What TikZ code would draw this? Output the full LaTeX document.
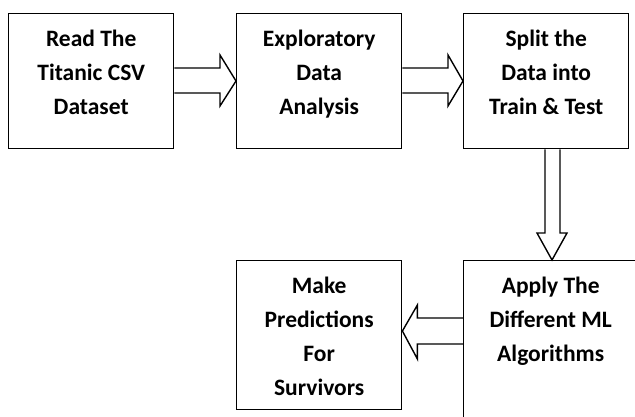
\documentclass[tikz,border=0pt]{standalone}
\usepackage{fontspec}
\setmainfont{Carlito}
\usetikzlibrary{calc}
\begin{document}
\begin{tikzpicture}[x=1pt,y=-1pt,
  box/.style={draw,line width=1.4pt,rectangle,inner sep=0pt,anchor=north west},
  txt/.style={anchor=north,align=center,inner sep=0pt,font=\fontsize{23.5}{34}\selectfont\bfseries},
  barrow/.style={draw,line width=1.4pt,line join=miter}]
\useasboundingbox (0,0) rectangle (635,416);
\clip (0,0) rectangle (635,416);
\node[box,minimum width=165pt,minimum height=135pt] (b1) at (8,13) {};
\node[box,minimum width=165pt,minimum height=135pt] (b2) at (236,13) {};
\node[box,minimum width=165pt,minimum height=135pt] (b3) at (463,13) {};
\node[box,minimum width=174pt,minimum height=180pt] (b4) at (463,260) {};
\node[box,minimum width=165pt,minimum height=149pt] (b5) at (236,260) {};
\node[txt] (t1) at ($(b1.north)+(0,17)$) {Read The\\Titanic CSV\\Dataset};
\node[txt] (t2) at ($(b2.north)+(0,17)$) {Exploratory\\Data\\Analysis};
\node[txt] (t3) at ($(b3.north)+(0,17)$) {Split the\\Data into\\Train \& Test};
\node[txt] (t4) at ($(b4.north)+(0,17)$) {Apply The\\Different ML\\Algorithms};
\node[txt] (t5) at ($(b5.north)+(0,17)$) {Make\\Predictions\\For\\Survivors};
% arrow 1
\draw[barrow] ($(b1.north east)+(0,55)$) -- ($(b2.north west)+(-16,55)$) -- ($(b2.north west)+(-16,42)$)
  -- ($(b2.north west)+(0,68)$) -- ($(b2.north west)+(-16,93)$) -- ($(b2.north west)+(-16,80)$) -- ($(b1.north east)+(0,80)$);
% arrow 2
\draw[barrow] ($(b2.north east)+(0,55)$) -- ($(b3.north west)+(-15,55)$) -- ($(b3.north west)+(-15,42)$)
  -- ($(b3.north west)+(0,68)$) -- ($(b3.north west)+(-15,93)$) -- ($(b3.north west)+(-15,80)$) -- ($(b2.north east)+(0,80)$);
% arrow 3 (down)
\coordinate (tip3) at (552,260);
\draw[barrow] (b3.south -| 545,0) -- (545,233) -- (537,233) -- (tip3) -- (567,233) -- (560,233) -- (b3.south -| 560,0);
% arrow 4 (left)
\draw[barrow] ($(b4.north west)+(0,58)$) -- ($(b5.north east)+(15,58)$) -- ($(b5.north east)+(15,45)$)
  -- ($(b5.north east)+(0,71)$) -- ($(b5.north east)+(15,99)$) -- ($(b5.north east)+(15,84)$) -- ($(b4.north west)+(0,84)$);
\end{tikzpicture}
\end{document}
